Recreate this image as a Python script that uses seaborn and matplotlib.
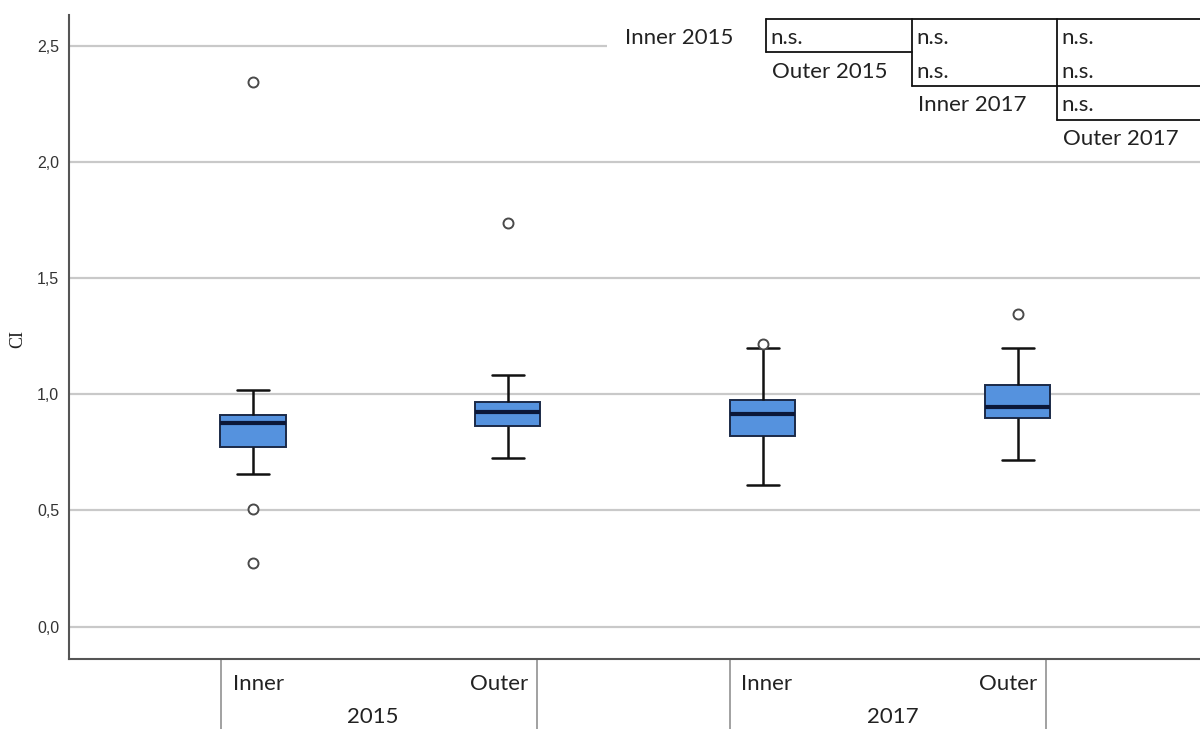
import numpy as np
import pandas as pd
import matplotlib
matplotlib.use("Agg")
import matplotlib.pyplot as plt
from matplotlib.lines import Line2D
from matplotlib.patches import Rectangle
import seaborn as sns

# ---------------- data ----------------
groups = ["Inner 2015", "Outer 2015", "Inner 2017", "Outer 2017"]
whisker_low = [0.658, 0.725, 0.610, 0.717]
q1 = [0.772, 0.864, 0.822, 0.899]
median = [0.875, 0.924, 0.914, 0.947]
q3 = [0.911, 0.967, 0.974, 1.039]
whisker_high = [1.019, 1.081, 1.199, 1.201]

outlier_group = ["Inner 2015", "Inner 2015", "Inner 2015", "Outer 2015", "Inner 2017", "Outer 2017"]
outlier_values = [2.345, 0.508, 0.275, 1.736, 1.216, 1.344]

subgroup_labels = ["Inner", "Outer"]
year_labels = ["2015", "2017"]
ytick_values = [0.0, 0.5, 1.0, 1.5, 2.0, 2.5]
ytick_labels = ["0,0", "0,5", "1,0", "1,5", "2,0", "2,5"]

table_row_labels = ["Inner 2015", "Outer 2015", "Inner 2017", "Outer 2017"]
table_cells = [["n.s.", "n.s.", "n.s."], ["n.s.", "n.s."], ["n.s."]]

# summary table -> long frame (five-number summary per group)
rows = []
for g, a, b, c, d, e in zip(groups, whisker_low, q1, median, q3, whisker_high):
    for v in (a, b, c, d, e):
        rows.append({"group": g, "CI": v})
df = pd.DataFrame(rows)
out_df = pd.DataFrame({"group": outlier_group, "CI": outlier_values})

# ---------------- figure ----------------
sns.set_style("white")
W, H = 1200, 729
fig = plt.figure(figsize=(12, 7.29), dpi=100)
ax_left, ax_right, ax_top, ax_bottom = 69, 1200, 15, 658.7
ax = fig.add_axes([ax_left / W, 1 - ax_bottom / H, (ax_right - ax_left) / W, (ax_bottom - ax_top) / H])

for y in ytick_values:
    ax.axhline(y, color="#c9c9c9", lw=1.6, zorder=0)

sns.boxplot(data=df, x="group", y="CI", order=groups, whis=(0, 100), width=0.255,
            color="#5592de", saturation=1, linecolor="#1a1a1a", linewidth=1.6,
            showfliers=False, ax=ax,
            boxprops=dict(edgecolor="#1b2a48", linewidth=1.4),
            medianprops=dict(color="#0b1738", linewidth=3.0),
            whiskerprops=dict(color="#111111", linewidth=1.8),
            capprops=dict(color="#111111", linewidth=1.8))

sns.stripplot(data=out_df, x="group", y="CI", order=groups, jitter=False, size=7.2,
              color="white", edgecolor="#4a4a4a", linewidth=1.4, ax=ax, zorder=5)

ax.set_xlim(-0.7216, 3.714)
ax.set_ylim(-0.138, 2.632)
ax.set_xticks([])
ax.set_xlabel("")
ax.set_yticks(ytick_values)
ax.set_yticklabels(ytick_labels, family=["Liberation Sans Narrow", "Liberation Sans"],
                   fontsize=11.5, color="#333333")
ax.tick_params(axis="y", length=0, pad=7)
ax.set_ylabel("CI", family="Liberation Serif", fontsize=13, color="#222222")
ax.yaxis.set_label_coords(-0.038, 0.497)

for s in ["top", "right"]:
    ax.spines[s].set_visible(False)
for s in ["left", "bottom"]:
    ax.spines[s].set_color("#555555")
    ax.spines[s].set_linewidth(1.5)

# ---------------- clustered category axis ----------------
trans = matplotlib.transforms.blended_transform_factory(ax.transData, ax.transAxes)
below = -(H - ax_bottom) / (ax_bottom - ax_top)
cluster_centers = [0.495, 2.49]
year_x = [0.47, 2.51]
half = 0.62
lab_font = ["Lato", "DejaVu Sans"]
fs = 16
y_sub = -(684 - ax_bottom) / (ax_bottom - ax_top)
y_year = -(717 - ax_bottom) / (ax_bottom - ax_top)
for cc, yx, yr in zip(cluster_centers, year_x, year_labels):
    for xx in (cc - half, cc + half):
        ax.add_line(Line2D([xx, xx], [0, below], transform=trans, color="#9a9a9a",
                           lw=1.3, clip_on=False))
    ax.text(cc - half + 0.045, y_sub, subgroup_labels[0], transform=trans, ha="left",
            va="center", fontsize=fs, family=lab_font, color="#222222")
    ax.text(cc + half - 0.035, y_sub, subgroup_labels[1], transform=trans, ha="right",
            va="center", fontsize=fs, family=lab_font, color="#222222")
    ax.text(yx, y_year, yr, transform=trans, ha="center", va="center",
            fontsize=fs, family=lab_font, color="#222222")

# ---------------- significance table (figure pixel coordinates) ----------------
def fx(px):
    return px / W

def fy(py):
    return 1 - py / H

fig.add_artist(Rectangle((fx(607), fy(152)), fx(1200) - fx(607), fy(18) - fy(152),
                         transform=fig.transFigure, facecolor="white", edgecolor="none",
                         zorder=3))

col_x = [766, 912, 1057, 1203]
row_y = [19, 52, 86, 120]
lc = "#111111"
segs = [
    ((col_x[0], row_y[0]), (col_x[3], row_y[0])),
    ((col_x[0], row_y[1]), (col_x[1], row_y[1])),
    ((col_x[1], row_y[2]), (col_x[3], row_y[2])),
    ((col_x[2], row_y[3]), (col_x[3], row_y[3])),
    ((col_x[0], row_y[0]), (col_x[0], row_y[1])),
    ((col_x[1], row_y[0]), (col_x[1], row_y[2])),
    ((col_x[2], row_y[0]), (col_x[2], row_y[3])),
]
for (x0, y0), (x1, y1) in segs:
    fig.add_artist(Line2D([fx(x0), fx(x1)], [fy(y0), fy(y1)], transform=fig.transFigure,
                          color=lc, lw=1.3, zorder=4))

label_pos = [(625, 38), (772, 72), (918, 105), (1063, 139)]
for (px, py), lab in zip(label_pos, table_row_labels):
    fig.text(fx(px), fy(py), lab, ha="left", va="center", fontsize=fs, family=lab_font,
             color="#222222", zorder=5)

for r, cells in enumerate(table_cells):
    for k, txt in enumerate(cells):
        c = r + k
        fig.text(fx(col_x[c] + 4), fy([38, 72, 105][r]), txt, ha="left", va="center",
                 fontsize=fs, family=lab_font, color="#222222", zorder=5)

fig.savefig("out.png", dpi=100, facecolor="white")
